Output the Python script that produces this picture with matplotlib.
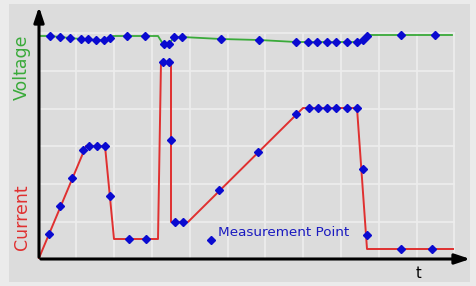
import numpy as np
import matplotlib.pyplot as plt
from matplotlib.patches import Rectangle

# readings in picture units (x to the right, y downwards)
volt_wave_t = [39, 50, 60, 70, 81, 96, 104, 110, 113, 158, 163, 169, 174, 182, 221, 259, 296, 357, 363, 368, 452]
volt_wave_v = [36, 36, 37, 38, 39, 40, 40, 38, 36, 36, 44, 44, 37, 37, 39, 40, 42, 42, 40, 35, 35]
volt_pts_t = [50, 60, 70, 81, 88, 96, 104, 110, 127, 145, 164, 169, 174, 182, 221, 259,
              296, 308, 317, 327, 336, 347, 357, 363, 367, 401, 435]
volt_pts_v = [36, 37, 38, 39, 39, 40, 40, 38, 36, 36, 44, 44, 37, 37, 39, 40,
              42, 42, 42, 42, 42, 42, 42, 40, 36, 35, 35]

curr_wave_t = [39, 86, 105, 114, 158, 161, 171, 171, 188, 303, 357, 367, 453]
curr_wave_i = [258, 146, 146, 239, 239, 62, 62, 222, 222, 108, 108, 249, 249]
curr_pts_t = [49, 60, 72, 83, 89, 97, 105, 110, 129, 146, 163, 169, 171, 175, 183, 219,
              258, 296, 309, 318, 327, 336, 347, 357, 363, 367, 401, 432]
curr_pts_i = [234, 206, 178, 150, 146, 146, 146, 196, 239, 239, 62, 62, 140, 222, 222, 190,
              152, 114, 108, 108, 108, 108, 108, 108, 169, 235, 249, 249]

grid_x = [76, 114, 152, 190, 228, 265, 303, 341, 379, 417, 454]
grid_y = [33, 71, 109, 146, 184, 222]

fig = plt.figure(figsize=(4.77, 2.86), dpi=100)
fig.patch.set_facecolor('#ebebeb')
ax = fig.add_axes([0, 0, 1, 1])
ax.set_xlim(0, 477)
ax.set_ylim(286, 0)
ax.axis('off')

ax.add_patch(Rectangle((9, 4), 461, 278, facecolor='#dcdcdc', edgecolor='none', zorder=0))

for gx in grid_x:
    ax.plot([gx, gx], [33, 259], color='#ededed', lw=1.2, zorder=1)
for gy in grid_y:
    ax.plot([39, 454], [gy, gy], color='#ededed', lw=1.2, zorder=1)

ax.plot(volt_wave_t, volt_wave_v, color='#3aaa3a', lw=1.3, zorder=3)
ax.plot(curr_wave_t, curr_wave_i, color='#e03030', lw=1.4, zorder=3)
ax.plot(volt_pts_t, volt_pts_v, 'D', color='#0a0ad0', ms=3.7, ls='none', zorder=4)
ax.plot(curr_pts_t, curr_pts_i, 'D', color='#0a0ad0', ms=3.7, ls='none', zorder=4)

# axes with arrows
ax.annotate('', xy=(39, 4), xytext=(39, 260),
            arrowprops=dict(arrowstyle='-|>,head_length=0.9,head_width=0.3', color='black', lw=2.2), zorder=5)
ax.annotate('', xy=(473, 259), xytext=(38, 259),
            arrowprops=dict(arrowstyle='-|>,head_length=0.9,head_width=0.3', color='black', lw=2.2), zorder=5)

ax.text(22, 67, 'Voltage', color='#3aaa3a', fontsize=12.5, rotation=90, ha='center', va='center')
ax.text(22, 217, 'Current', color='#e03030', fontsize=12.5, rotation=90, ha='center', va='center')
ax.text(419, 273, 't', color='black', fontsize=10.5, ha='center', va='center')

ax.plot([211], [240], 'D', color='#0a0ad0', ms=3.7, zorder=4)
ax.text(218, 232, 'Measurement Point', color='#1a1ac0', fontsize=9.7, ha='left', va='center')

fig.savefig('out.png', dpi=100, facecolor=fig.get_facecolor())
